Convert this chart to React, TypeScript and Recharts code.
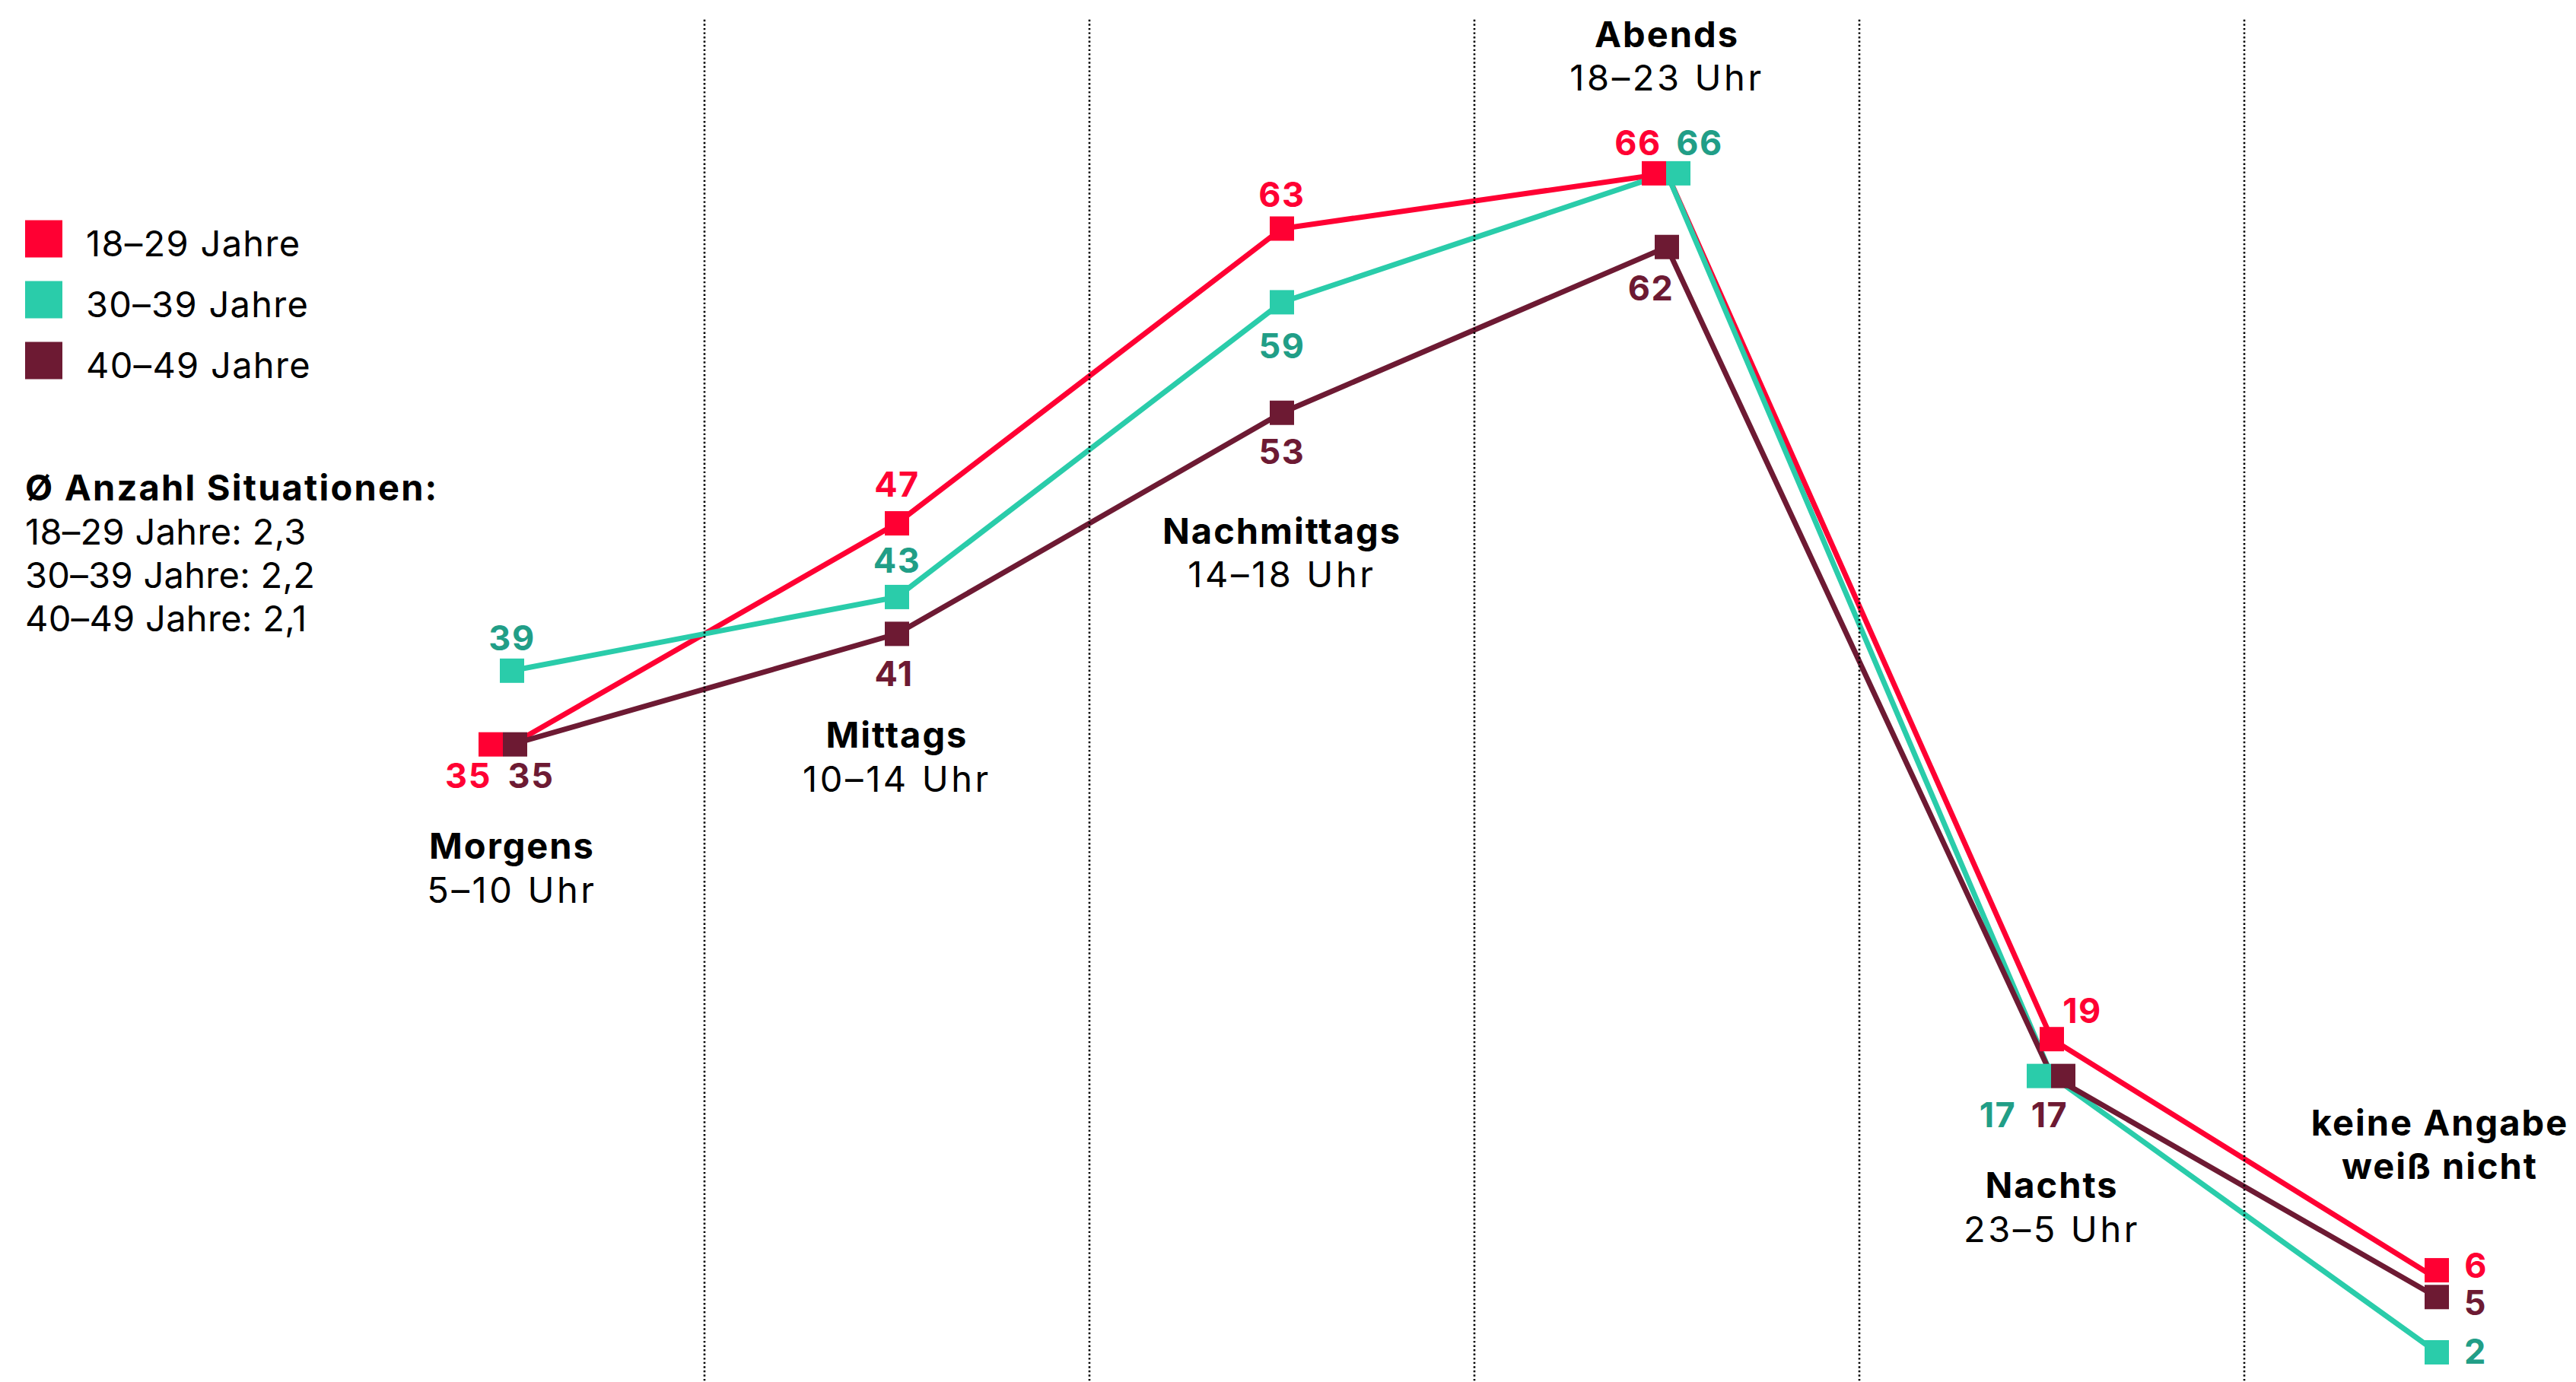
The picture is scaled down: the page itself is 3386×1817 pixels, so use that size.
import React from 'react';
import { LineChart, Line, XAxis, YAxis, ReferenceLine, LabelList } from 'recharts';

// ---------- data ----------
const categories = ['Morgens', 'Mittags', 'Nachmittags', 'Abends', 'Nachts', 'keine Angabe'];
const categorySub = ['5–10 Uhr', '10–14 Uhr', '14–18 Uhr', '18–23 Uhr', '23–5 Uhr', 'weiß nicht'];
const seriesNames = ['18–29 Jahre', '30–39 Jahre', '40–49 Jahre'];
const age1829 = [35, 47, 63, 66, 19, 6];
const age3039 = [39, 43, 59, 66, 17, 2];
const age4049 = [35, 41, 53, 62, 17, 5];
const averages = ['2,3', '2,2', '2,1'];
const dividerTicks = [0.5, 1.5, 2.5, 3.5, 4.5];

// ---------- styles / layout ----------
const FONT = "Inter, 'Open Sans', 'Noto Sans', sans-serif";
const seriesKeys = ['a', 'b', 'c'];
const lineColors = ['#FF0033', '#2ACCAA', '#6D1A33'];
const labelColors = ['#FF0033', '#219E87', '#6D1A33'];

// marker dodge offsets (px) for overlapping points, per series & category
const dotDodge: number[][][] = [
  [[-28, 0], [0, 0], [0, 0], [-17, 0], [0, 0], [0, -11]],
  [[0, 0], [0, 0], [0, 0], [15, 0], [-17, 0], [0, 0]],
  [[4, 0], [0, 0], [0, 0], [0, 0], [15, 0], [0, 0]],
];
// label offsets (px) from dodged marker centre to text centre/baseline
const labelOffset: number[][][] = [
  [[-29.5, 57], [0, -35], [0, -29], [-21, -24], [40, -21], [51.5, 10]],
  [[0, -27], [0, -32], [0, 74], [28, -24], [-54, 67], [51, 15]],
  [[21, 57], [-4, 69], [0, 67], [-21, 70], [-18, 67], [51, 24]],
];
// category label baselines (px) : [bold line, second line]
const catLabelY: number[][] = [
  [1129, 1187],
  [983, 1041],
  [715, 772],
  [62, 119],
  [1575, 1633],
  [1493, 1550],
];
const catLabelDx = [0, 0, 0, 0, 0, 4];
const catSubBold = [false, false, false, false, false, true];

const data = categories.map((name, i) => ({
  idx: i,
  name,
  a: age1829[i],
  b: age3039[i],
  c: age4049[i],
}));

const MARK = 32;

// category labels, positioned at the x scale of each category
const renderCategoryLabel = (props: any) => {
  const { x, index } = props;
  if (x == null || index == null) return null;
  const cx = x + catLabelDx[index];
  return (
    <g key={`cat-${index}`}>
      <text
        x={cx}
        y={catLabelY[index][0]}
        textAnchor="middle"
        fontFamily={FONT}
        fontSize={47}
        fontWeight={700}
        letterSpacing={2}
        fill="#000"
      >
        {categories[index]}
      </text>
      <text
        x={cx}
        y={catLabelY[index][1]}
        textAnchor="middle"
        fontFamily={FONT}
        fontSize={47}
        fontWeight={catSubBold[index] ? 700 : 400}
        letterSpacing={catSubBold[index] ? 2 : 3.6}
        fill="#000"
      >
        {categorySub[index]}
      </text>
    </g>
  );
};

const makeDot = (s: number) => (props: any) => {
  const { cx, cy, index } = props;
  if (cx == null || cy == null) return <g key={`d${s}-${index}`} />;
  const [dx, dy] = dotDodge[s][index];
  return (
    <rect
      key={`d${s}-${index}`}
      x={cx + dx - MARK / 2}
      y={cy + dy - MARK / 2}
      width={MARK}
      height={MARK}
      fill={lineColors[s]}
    />
  );
};

const makeLabel = (s: number) => (props: any) => {
  const { x, y, value, index } = props;
  if (x == null || y == null) return null;
  const [ddx, ddy] = dotDodge[s][index];
  const [lx, ly] = labelOffset[s][index];
  return (
    <text
      key={`l${s}-${index}`}
      x={x + ddx + lx}
      y={y + ddy + ly}
      textAnchor="middle"
      fontFamily={FONT}
      fontSize={45}
      fontWeight={700}
      letterSpacing={1.5}
      fill={labelColors[s]}
    >
      {value}
    </text>
  );
};

const LegendBlock = () => {
  const centers = [314, 394, 474];
  const baselines = [337, 417, 497];
  const avgBase = [716, 773, 830];
  return (
    <svg
      width={720}
      height={900}
      style={{ position: 'absolute', left: 0, top: 0, pointerEvents: 'none' }}
    >
      {seriesNames.map((n, i) => (
        <g key={n}>
          <rect x={33} y={centers[i] - 24.5} width={49} height={49} fill={lineColors[i]} />
          <text
            x={113}
            y={baselines[i]}
            fontFamily={FONT}
            fontSize={47}
            letterSpacing={1.3}
            fill="#000"
          >
            {n}
          </text>
        </g>
      ))}
      <text x={33} y={658} fontFamily={FONT} fontSize={47} fontWeight={700} letterSpacing={2.2} fill="#000">
        Ø Anzahl Situationen:
      </text>
      {seriesNames.map((n, i) => (
        <text
          key={`avg-${n}`}
          x={33}
          y={avgBase[i]}
          fontFamily={FONT}
          fontSize={47}
          letterSpacing={0.3}
          fill="#000"
        >
          {`${n}: ${averages[i]}`}
        </text>
      ))}
    </svg>
  );
};

export default function App() {
  return (
    <div
      style={{
        position: 'absolute',
        left: 0,
        top: 0,
        width: 3386,
        height: 1817,
        overflow: 'hidden',
        background: '#fff',
      }}
    >
      <LineChart
        width={3386}
        height={1827}
        data={data}
        margin={{ top: 23.2, right: 183, bottom: 0.6, left: 673 }}
      >
        <XAxis dataKey="idx" type="number" domain={[0, 5]} ticks={[0, 1, 2, 3, 4, 5]} hide />
        <YAxis hide type="number" domain={[0, 74.45]} />
        {seriesKeys.map((k, s) => (
          <Line
            key={`line-${k}`}
            dataKey={k}
            type="linear"
            stroke={lineColors[s]}
            strokeWidth={7}
            dot={false}
            activeDot={false}
            legendType="none"
            isAnimationActive={false}
          />
        ))}
        {dividerTicks.map((t) => (
          <ReferenceLine
            key={`div-${t}`}
            x={t}
            stroke="#000"
            strokeWidth={2.6}
            strokeDasharray="2.4 3.15"
          />
        ))}
        {seriesKeys.map((k, s) => (
          <Line
            key={`dots-${k}`}
            dataKey={k}
            name={seriesNames[s]}
            type="linear"
            stroke="none"
            strokeWidth={0}
            dot={makeDot(s)}
            activeDot={false}
            isAnimationActive={false}
          >
            <LabelList dataKey={k} content={makeLabel(s)} />
            {s === 0 ? <LabelList dataKey="name" content={renderCategoryLabel} /> : null}
          </Line>
        ))}
      </LineChart>
      <LegendBlock />
    </div>
  );
}
